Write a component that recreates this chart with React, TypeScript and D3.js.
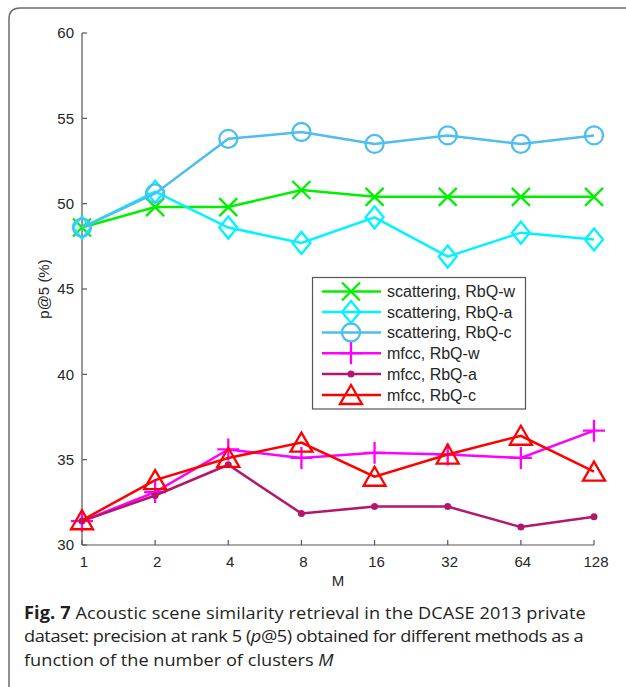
import * as d3 from "d3";

const clusters = [1, 2, 4, 8, 16, 32, 64, 128];
const yTicks = [30, 35, 40, 45, 50, 55, 60];

const scatW = [48.6, 49.8, 49.8, 50.8, 50.4, 50.4, 50.4, 50.4];
const scatA = [48.6, 50.7, 48.6, 47.7, 49.2, 46.9, 48.3, 47.9];
const scatC = [48.6, 50.6, 53.8, 54.2, 53.5, 54.0, 53.5, 54.0];
const mfccW = [31.4, 33.1, 35.6, 35.1, 35.4, 35.3, 35.1, 36.7];
const mfccA = [31.4, 32.9, 34.7, 31.85, 32.25, 32.25, 31.05, 31.65];
const mfccC = [31.45, 33.8, 35.1, 36.0, 34.0, 35.3, 36.4, 34.3];

type Marker = "x" | "diamond" | "circle" | "plus" | "dot" | "triangle";

const series: { name: string; color: string; marker: Marker; values: number[] }[] = [
  { name: "scattering, RbQ-w", color: "#00f000", marker: "x", values: scatW },
  { name: "scattering, RbQ-a", color: "#00f4ff", marker: "diamond", values: scatA },
  { name: "scattering, RbQ-c", color: "#4dbeee", marker: "circle", values: scatC },
  { name: "mfcc, RbQ-w", color: "#ff00ff", marker: "plus", values: mfccW },
  { name: "mfcc, RbQ-a", color: "#b3176c", marker: "dot", values: mfccA },
  { name: "mfcc, RbQ-c", color: "#ff0000", marker: "triangle", values: mfccC },
];

const W = 626;
const H = 687;
const x = d3.scaleLog().base(2).domain([1, 128]).range([82, 594]);
const y = d3.scaleLinear().domain([30, 60]).range([545, 33]);
const FONT = "'Liberation Sans', Arial, Helvetica, sans-serif";
const AXIS = "#555";
const TEXT = "#262626";

function MarkerShape({ kind, color }: { kind: Marker; color: string }) {
  const sw = 2.3;
  switch (kind) {
    case "x":
      return <path d="M-9,-9L9,9M-9,9L9,-9" stroke={color} strokeWidth={sw} fill="none" />;
    case "diamond":
      return <path d="M0,-11L9,0L0,11L-9,0Z" stroke={color} strokeWidth={sw} fill="none" />;
    case "circle":
      return <circle r={9} stroke={color} strokeWidth={sw} fill="none" />;
    case "plus":
      return <path d="M-11,0L11,0M0,-11L0,11" stroke={color} strokeWidth={sw} fill="none" />;
    case "dot":
      return <circle r={3.5} fill={color} />;
    case "triangle":
      return <path d="M0,-10L11,9L-11,9Z" stroke={color} strokeWidth={sw} fill="none" />;
  }
}

export default function App() {
  const line = d3
    .line<number>()
    .x((_, i) => x(clusters[i]))
    .y((d) => y(d));

  const legendRows = [291.5, 312, 332.5, 353.2, 374, 395];

  return (
    <div style={{ position: "absolute", left: 0, top: 0 }}>
      <svg width={W} height={H} style={{ display: "block", background: "#fff" }}>
        {/* panel frame */}
        <path d="M9,700L9,19Q9,8 20,8L640,8" fill="none" stroke="#6b6b6b" strokeWidth={1.5} />

        {/* axes */}
        <g fontFamily={FONT} fontSize={15} fill={TEXT}>
          <line x1={82} x2={82} y1={y(60)} y2={y(30)} stroke={AXIS} strokeWidth={1.2} />
          <line x1={82} x2={594} y1={y(30)} y2={y(30)} stroke={AXIS} strokeWidth={1.2} />
          {yTicks.map((t) => (
            <g key={t}>
              <line x1={82} x2={87} y1={y(t)} y2={y(t)} stroke={AXIS} strokeWidth={1.2} />
              <text x={74} y={y(t)} dy="0.36em" textAnchor="end">
                {t}
              </text>
            </g>
          ))}
          {clusters.map((c) => (
            <g key={c}>
              <line x1={x(c)} x2={x(c)} y1={y(30)} y2={y(30) - 5} stroke={AXIS} strokeWidth={1.2} />
              <text x={x(c) + 2} y={562} dy="0.36em" textAnchor="middle">
                {c}
              </text>
            </g>
          ))}
          <text x={338} y={581} dy="0.36em" textAnchor="middle">
            M
          </text>
          <text transform="translate(44,289) rotate(-90)" dy="0.36em" textAnchor="middle">
            p@5 (%)
          </text>
        </g>

        {/* series */}
        {series.map((s) => (
          <g key={s.name}>
            <path d={line(s.values) ?? ""} fill="none" stroke={s.color} strokeWidth={2.5} />
            {s.values.map((v, i) => (
              <g key={i} transform={`translate(${x(clusters[i])},${y(v)})`}>
                <MarkerShape kind={s.marker} color={s.color} />
              </g>
            ))}
          </g>
        ))}

        {/* legend */}
        <g fontFamily={FONT} fontSize={16} fill={TEXT}>
          <rect x={312.5} y={277.5} width={213} height={131.5} fill="#fff" stroke="#555" strokeWidth={1.2} />
          {series.map((s, i) => (
            <g key={s.name} transform={`translate(0,${legendRows[i]})`}>
              <line x1={322} x2={381} y1={0} y2={0} stroke={s.color} strokeWidth={2.5} />
              <g transform="translate(351,0)">
                <MarkerShape kind={s.marker} color={s.color} />
              </g>
              <text x={387} y={0} dy="0.36em">
                {s.name}
              </text>
            </g>
          ))}
        </g>

        {/* caption (justified, slightly wide face) */}
        <g fontFamily="'Open Sans', 'Noto Sans', sans-serif" fontSize={17} fill="#231f20" transform="translate(24,0) scale(1.07,1)">
          <text x={0} y={619} textLength={525} lengthAdjust="spacing">
            <tspan fontWeight="bold">Fig. 7</tspan> Acoustic scene similarity retrieval in the DCASE 2013 private
          </text>
          <text x={0} y={642} textLength={523} lengthAdjust="spacing">
            dataset: precision at rank 5 (<tspan fontStyle="italic">p</tspan>@5) obtained for different methods as a
          </text>
          <text x={0} y={666}>
            function of the number of clusters <tspan fontStyle="italic">M</tspan>
          </text>
        </g>
      </svg>
    </div>
  );
}
